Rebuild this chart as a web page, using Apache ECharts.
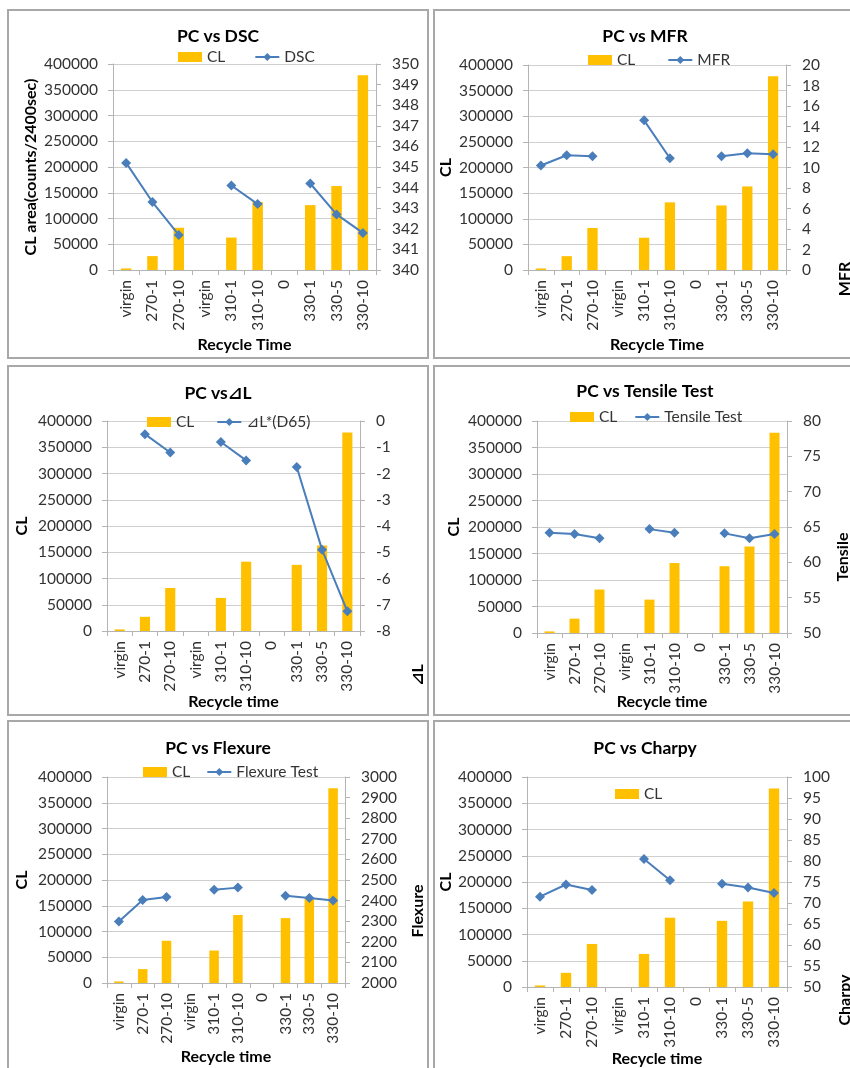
<!DOCTYPE html>
<html><head><meta charset="utf-8">
<script src="https://cdn.jsdelivr.net/npm/echarts@6/dist/echarts.min.js"></script>
<style>
html,body{margin:0;padding:0;width:850px;height:1068px;overflow:hidden;background:#fff;}
.c{position:absolute;}
.b{position:absolute;border:2px solid #a8a8a8;box-sizing:border-box;pointer-events:none;}
</style></head><body>
<div id="p1" class="c" style="left:7px;top:9px;width:422px;height:350px"></div>
<div id="p2" class="c" style="left:433px;top:9px;width:424px;height:350px"></div>
<div id="p3" class="c" style="left:7px;top:365px;width:422px;height:351px"></div>
<div id="p4" class="c" style="left:433px;top:365px;width:424px;height:351px"></div>
<div id="p5" class="c" style="left:7px;top:720px;width:422px;height:352px"></div>
<div id="p6" class="c" style="left:433px;top:720px;width:424px;height:352px"></div>
<div class="b" style="left:7px;top:9px;width:422px;height:350px"></div>
<div class="b" style="left:433px;top:9px;width:424px;height:350px"></div>
<div class="b" style="left:7px;top:365px;width:422px;height:351px"></div>
<div class="b" style="left:433px;top:365px;width:424px;height:351px"></div>
<div class="b" style="left:7px;top:720px;width:422px;height:352px"></div>
<div class="b" style="left:433px;top:720px;width:424px;height:352px"></div>
<script>
// ---- data ----
const categories = ['virgin', '270-1', '270-10', 'virgin', '310-1', '310-10', '0', '330-1', '330-5', '330-10'];
const clValues = [3000, 27000, 82000, null, 63000, 132000, null, 126000, 163000, 378000];
const dscValues = [345.2, 343.3, 341.7, null, 344.1, 343.2, null, 344.2, 342.7, 341.8];
const mfrValues = [10.2, 11.2, 11.1, null, 14.6, 10.9, null, 11.1, 11.4, 11.3];
const dLValues = [null, -0.5, -1.2, null, -0.8, -1.5, null, -1.75, -4.9, -7.25];
const tensileValues = [64.2, 64.0, 63.4, null, 64.7, 64.2, null, 64.1, 63.4, 64.0];
const flexureValues = [2298, 2403, 2417, null, 2453, 2463, null, 2424, 2413, 2401];
const charpyValues = [71.5, 74.4, 73.1, null, 80.5, 75.4, null, 74.6, 73.7, 72.4];
// axis ranges [min, max, interval]
const clAxis = [0, 400000, 50000];
const dscAxis = [340, 350, 1];
const mfrAxis = [0, 20, 2];
const dLAxis = [-8, 0, 1];
const tensileAxis = [50, 80, 5];
const flexureAxis = [2000, 3000, 100];
const charpyAxis = [50, 100, 5];

const FONT = 'Lato, "DejaVu Sans", sans-serif';
const TXT = '#333';
const AX = '#b4b4b4';
const BAR = '#ffc000';
const LINE = '#4a7ebb';
const FS = 15.5;
const plain = v => String(v);

function makePanel(id, c) {
  const chart = echarts.init(document.getElementById(id), null, {renderer: 'canvas'});
  const legendData = [{name: 'CL', icon: 'rect', itemStyle: {color: BAR}}];
  if (c.lineInLegend !== false) legendData.push({name: c.lineName});
  const graphic = [];
  if (c.rightName) {
    graphic.push({
      type: 'text', x: c.rightName[1], y: c.rightName[2], rotation: Math.PI / 2,
      style: {text: c.rightName[0], font: 'bold 16px ' + FONT, fill: '#000', align: 'center', verticalAlign: 'middle'}
    });
  }
  chart.setOption({
    animation: false,
    textStyle: {fontFamily: FONT},
    title: {text: c.title, left: 'center', top: c.titleTop,
      textStyle: {fontFamily: FONT, fontSize: 17.5, fontWeight: 'bold', color: '#000'}},
    legend: {data: legendData, left: c.legend[0], top: c.legend[1], itemGap: c.legend[2],
      itemWidth: 24, itemHeight: 10, textStyle: {fontFamily: FONT, fontSize: FS, color: TXT}},
    grid: Object.assign({outerBoundsMode: 'none', containLabel: false}, c.grid),
    xAxis: {
      type: 'category', data: categories, boundaryGap: true,
      name: c.xName, nameLocation: 'middle', nameGap: c.xNameGap, nameMoveOverlap: false,
      nameTextStyle: {fontFamily: FONT, fontSize: 16, fontWeight: 'bold', color: '#000'},
      axisLine: {show: true, lineStyle: {color: AX, width: 1}},
      axisTick: {show: true, length: 5, alignWithLabel: false, lineStyle: {color: AX}},
      axisLabel: {interval: 0, rotate: 90, margin: 10, fontSize: FS, color: TXT, fontFamily: FONT},
      splitLine: {show: false}
    },
    yAxis: [{
      type: 'value', min: clAxis[0], max: clAxis[1], interval: clAxis[2], position: 'left',
      name: c.leftName, nameLocation: 'middle', nameGap: c.leftNameGap, nameRotate: 90,
      nameMoveOverlap: false,
      nameTextStyle: {fontFamily: FONT, fontSize: 16, fontWeight: 'bold', color: '#000'},
      axisLine: {show: true, lineStyle: {color: AX, width: 1}},
      axisTick: {show: true, length: 5, lineStyle: {color: AX}},
      axisLabel: {margin: 15, fontSize: FS, color: TXT, fontFamily: FONT, formatter: plain},
      splitLine: {show: true, lineStyle: {color: '#cfcfcf', width: 1}}
    }, {
      type: 'value', min: c.rightAxis[0], max: c.rightAxis[1], interval: c.rightAxis[2], position: 'right',
      axisLine: {show: true, lineStyle: {color: AX, width: 1}},
      axisTick: {show: true, length: 5, lineStyle: {color: AX}},
      axisLabel: {margin: 16, fontSize: FS, color: TXT, fontFamily: FONT, formatter: plain},
      splitLine: {show: false}
    }],
    series: [{
      name: 'CL', type: 'bar', data: clValues, yAxisIndex: 0, barWidth: '40%',
      itemStyle: {color: BAR}, z: 2
    }, {
      name: c.lineName, type: 'line', data: c.lineValues, yAxisIndex: 1,
      symbol: 'diamond', symbolSize: 10, connectNulls: false,
      lineStyle: {color: LINE, width: 2}, itemStyle: {color: LINE}, z: 3
    }],
    graphic: graphic
  });
}

makePanel('p1', {title: 'PC vs DSC', titleTop: 13, lineName: 'DSC', lineValues: dscValues,
  rightAxis: dscAxis, grid: {left: 106, top: 55, width: 263, height: 206},
  legend: [166, 35, 29], leftName: 'CL area(counts/2400sec)', leftNameGap: 74,
  xName: 'Recycle Time', xNameGap: 67});
makePanel('p2', {title: 'PC vs MFR', titleTop: 13, lineName: 'MFR', lineValues: mfrValues,
  rightAxis: mfrAxis, grid: {left: 95, top: 56, width: 258, height: 205},
  legend: [150, 38, 32], leftName: 'CL', leftNameGap: 74,
  xName: 'Recycle Time', xNameGap: 67, rightName: ['MFR', 412, 270]});
makePanel('p3', {title: 'PC vs\u22BFL', titleTop: 14, lineName: '\u22BFL*(D65)', lineValues: dLValues,
  rightAxis: dLAxis, grid: {left: 100, top: 56, width: 253, height: 210},
  legend: [135, 44, 22], leftName: 'CL', leftNameGap: 77,
  xName: 'Recycle time', xNameGap: 63, rightName: ['\u22BFL', 411, 310]});
makePanel('p4', {title: 'PC vs Tensile Test', titleTop: 12, lineName: 'Tensile Test', lineValues: tensileValues,
  rightAxis: tensileAxis, grid: {left: 104, top: 56, width: 250, height: 212},
  legend: [132, 39, 17], leftName: 'CL', leftNameGap: 75,
  xName: 'Recycle time', xNameGap: 61, rightName: ['Tensile', 410, 192]});
makePanel('p5', {title: 'PC vs Flexure', titleTop: 14, lineName: 'Flexure Test', lineValues: flexureValues,
  rightAxis: flexureAxis, grid: {left: 100, top: 57, width: 238, height: 206},
  legend: [131, 39, 16], leftName: 'CL', leftNameGap: 77,
  xName: 'Recycle time', xNameGap: 66, rightName: ['Flexure', 411, 191]});
makePanel('p6', {title: 'PC vs Charpy', titleTop: 14, lineName: 'Charpy', lineValues: charpyValues,
  lineInLegend: false,
  rightAxis: charpyAxis, grid: {left: 94, top: 57, width: 260, height: 210},
  legend: [177, 61, 16], leftName: 'CL', leftNameGap: 73,
  xName: 'Recycle time', xNameGap: 64, rightName: ['Charpy', 412, 280]});
</script>
</body></html>
